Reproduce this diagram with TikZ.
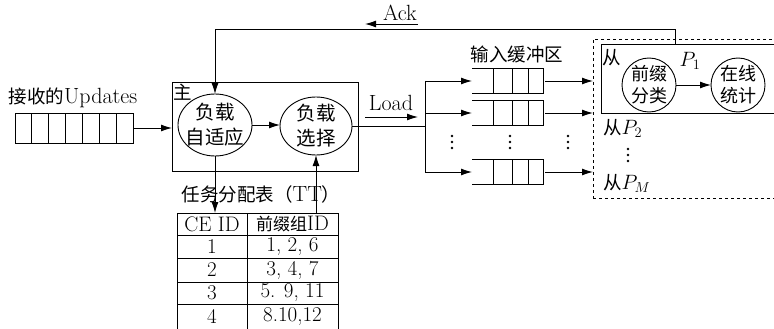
\documentclass[tikz,border=0pt]{standalone}
\usepackage{fontspec}
\newfontfamily\cjk{Noto Sans CJK SC}
\newcommand\zhtxt[1]{{\cjk\fontsize{18.5}{22}\selectfont #1}}
\newcommand\zhtab[1]{{\cjk\fontsize{17}{20}\selectfont #1}}
\usetikzlibrary{arrows.meta,shapes.geometric}
\begin{document}
\begin{tikzpicture}[x=1pt,y=-1pt, line width=0.9pt,
  >={Latex[length=11pt,width=7pt]},
  every node/.style={inner sep=0pt,outer sep=0pt},
  txt/.style={font=\fontsize{22}{24}\selectfont},
  ttxt/.style={font=\fontsize{21}{23}\selectfont},
  ell/.style={draw, ellipse},
  etxt/.style={font=\cjk\fontsize{19.5}{25}\selectfont, align=center},
  circ/.style={draw, circle, minimum size=54pt},
  ctxt/.style={font=\cjk\fontsize{18}{22}\selectfont, align=center},
  qcell/.style={draw, minimum height=30pt, minimum width=16.86pt},
  dot/.style={fill, circle, minimum size=2.8pt},
]
\clip (0,0) rectangle (774,329);
\fill[white] (0,0) rectangle (774,329);

% received updates queue
\node[txt] (uplabel) at (73,98) {\zhtxt{接收的}Updates};
\foreach \i in {1,...,7}
  \node[qcell] (u\i) at ({15+16.857*(\i-0.5)},128) {};

% master box
\node[draw, minimum width=186pt, minimum height=89pt] (main) at (265,126.5) {};
\node (zhu) at (183,92) {\zhtxt{主}};
\draw[->] (u7.east) -- (u7.east -| main.west);

\node[ell, minimum width=74pt, minimum height=62pt] (e1) at (215,125) {};
\node[etxt] (e1t) at (215,125) {负载\\自适应};
\node[ell, minimum width=72pt, minimum height=58pt] (e2) at (316,126) {};
\node[etxt] (e2t) at (316,126) {负载\\选择};
\draw[->] (e1.east) -- (e1.east -| e2.west);

% Load
\node[txt] (load) at (391,103) {Load};
\coordinate (loada) at (365,117);
\coordinate (loadb) at (418,117);
\draw[->] (loada) -- (loadb);
\coordinate (br) at (425,126);
\draw (e2.east) -- (br);

% slave area
\node[draw, dashed, minimum width=187pt, minimum height=159pt] (slv) at (686.5,118.5) {};
\node[draw, minimum width=179pt, minimum height=69pt] (s1) at (690.5,78.5) {};
\node (cong) at (612,58) {\zhtxt{从}};
\node[circ] (c1) at (649,85) {};
\node[ctxt] (c1t) at (649,85) {前缀\\分类};
\node[circ] (c2) at (738,85) {};
\node[ctxt] (c2t) at (738,85) {在线\\统计};
\draw[->] (c1) -- (c2);
\node[txt] (p1) at (690,61) {$P_{1}$};
\node[txt, anchor=west] (p2) at (603,128) {\zhtxt{从}$P_{2}$};
\foreach \k/\yy in {a/149,b/155,c/161}
  \node[dot] (vd\k) at (628,\yy) {};
\node[txt, anchor=west] (pm) at (603,183) {\zhtxt{从}$P_{M}$};

% input buffers
\node (buflabel) at (517,54) {\zhtxt{输入缓冲区}};
\foreach \n/\y in {1/81,2/113,3/172} {
  \node[minimum width=71pt, minimum height=25pt] (q\n) at (507.5,\y) {};
  \draw (q\n.north west) -- (q\n.north east) -- (q\n.south east) -- (q\n.south west);
  \foreach \x in {493,512,528} \draw (\x,\y-12.5) -- (\x,\y+12.5);
  \draw[->] (br |- q\n.west) -- (q\n.west);
  \draw[->] ([xshift=2pt]q\n.east) -- (q\n.east -| slv.west);
}
\draw (br |- q1.west) -- (br |- q3.west);
\foreach \xx/\m in {452/1,510/2,568/3}
  \foreach \k/\yy in {a/136,b/142,c/148}
    \node[dot] (d\m\k) at (\xx,\yy) {};

% Ack feedback
\coordinate (ackc) at (675,29);
\draw[->] (s1.north -| ackc) -- (ackc) -| (e1.north);
\node[txt] (ack) at (400,13) {Ack};
\coordinate (acka) at (418,24);
\coordinate (ackb) at (365,24);
\draw[->] (acka) -- (ackb);

% task table
\node[txt] (ttl) at (261,194) {\zhtxt{任务分配表（}TT\zhtxt{）}};
\node[minimum width=161pt, minimum height=116pt] (tt) at (257.5,271) {};
\foreach \yy in {213,235,258,282,304} \draw (177,\yy) -- (338,\yy);
\foreach \xx in {177,247,338} \draw (\xx,213) -- (\xx,330);
\node[ttxt] (h1) at (212,224) {CE ID};
\node[ttxt] (h2) at (292.5,224) {\zhtab{前缀组}ID};
\node[ttxt] (r1a) at (212,246.5) {1};
\node[ttxt] (r1b) at (292.5,246.5) {1, 2, 6};
\node[ttxt] (r2a) at (212,270) {2};
\node[ttxt] (r2b) at (292.5,270) {3, 4, 7};
\node[ttxt] (r3a) at (212,293) {3};
\node[ttxt] (r3b) at (292.5,293) {5. 9, 11};
\node[ttxt] (r4a) at (212,316.5) {4};
\node[ttxt] (r4b) at (292.5,316.5) {8.10,12};
\draw[->] (e1.south) -- (e1.south |- tt.north);
\draw[->] (e2.south |- tt.north) -- (e2.south);
\end{tikzpicture}
\end{document}
